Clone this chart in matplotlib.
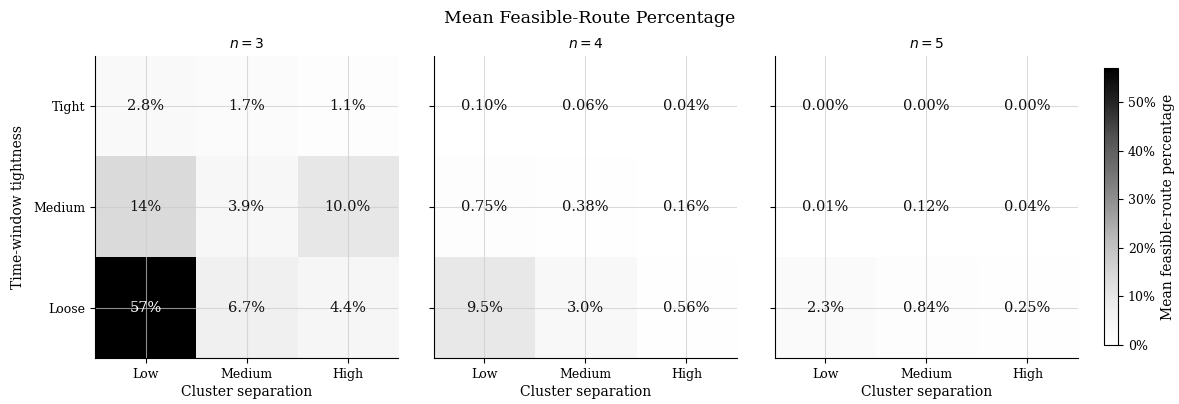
import matplotlib
matplotlib.use("Agg")
import matplotlib.pyplot as plt
import numpy as np
from matplotlib.ticker import FuncFormatter

plt.rcParams['font.family'] = ['DejaVu Serif']
plt.rcParams['mathtext.fontset'] = 'dejavusans'

separation = ["Low", "Medium", "High"]
tightness = ["Tight", "Medium", "Loose"]
panel_titles = ["$n = 3$", "$n = 4$", "$n = 5$"]

vals_n3 = [[2.8, 1.7, 1.1],
           [14.0, 3.9, 9.98],
           [57.0, 6.7, 4.4]]
vals_n4 = [[0.10, 0.06, 0.04],
           [0.75, 0.38, 0.16],
           [9.5, 3.0, 0.56]]
vals_n5 = [[0.00, 0.00, 0.00],
           [0.01, 0.12, 0.04],
           [2.3, 0.84, 0.25]]
panels = [vals_n3, vals_n4, vals_n5]
vmax = 57.0


def fmt(v):
    if v >= 10:
        return f"{v:.0f}%"
    if v >= 1:
        return f"{v:.1f}%"
    return f"{v:.2f}%"


fig = plt.figure(figsize=(11.79, 4.04), dpi=100)
lefts = [0.0806, 0.3681, 0.6573]
axes = []
for i, (left, vals, title) in enumerate(zip(lefts, panels, panel_titles)):
    ax = fig.add_axes([left, 0.1139, 0.257, 0.7475])
    arr = np.array(vals)
    im = ax.imshow(arr, cmap='Greys', vmin=0, vmax=vmax, aspect='auto',
                   interpolation='nearest')
    ax.set_xticks(range(3))
    ax.set_xticklabels(separation, fontsize=9)
    ax.set_yticks(range(3))
    if i == 0:
        ax.set_yticklabels(tightness, fontsize=9)
        ax.set_ylabel("Time-window tightness", fontsize=10, labelpad=6)
    else:
        ax.set_yticklabels([])
    ax.set_xlabel("Cluster separation", fontsize=10, labelpad=3)
    ax.set_title(title, fontsize=10, fontfamily='DejaVu Sans', pad=6)
    ax.grid(True, color='#cccccc', alpha=0.7, linewidth=0.8)
    for s in ['top', 'right']:
        ax.spines[s].set_visible(False)
    for r in range(3):
        for c in range(3):
            v = arr[r, c]
            ax.text(c, r, fmt(v), ha='center', va='center', fontsize=10.5,
                    color='white' if v > vmax * 0.5 else '#111111')
    axes.append(ax)

cax = fig.add_axes([0.9364, 0.146, 0.0119, 0.686])
cb = fig.colorbar(im, cax=cax)
cb.set_ticks([0, 10, 20, 30, 40, 50])
cb.ax.yaxis.set_major_formatter(FuncFormatter(lambda x, p: f"{x:.0f}%"))
cb.ax.tick_params(labelsize=9)
cb.set_label("Mean feasible-route percentage", fontsize=10)
cb.outline.set_linewidth(0.8)

fig.suptitle("Mean Feasible-Route Percentage", fontsize=12.5, y=0.975)

fig.savefig("out.png", dpi=100)
